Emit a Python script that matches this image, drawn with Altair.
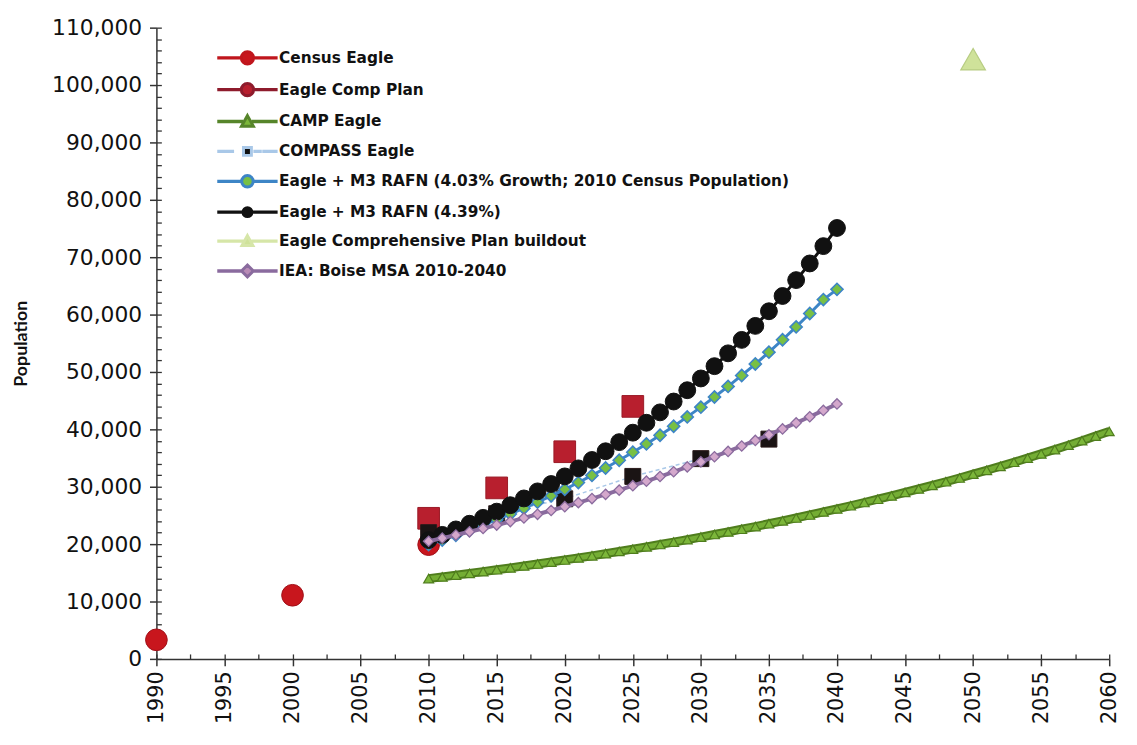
import altair as alt
import pandas as pd

# ---------------- data ----------------
census_years = [1990, 2000, 2010]
census_pop = [3327, 11085, 19908]

comp_plan_years = [2010, 2015, 2020, 2025]
comp_plan_pop = [24500, 29800, 36100, 44000]

camp_years = list(range(2010, 2061))
camp_pop = [14000, 14290, 14590, 14900, 15220, 15540, 15860, 16200, 16540, 16880,
            17240, 17600, 17970, 18350, 18740, 19130, 19530, 19940, 20360, 20790,
            21230, 21680, 22130, 22600, 23070, 23560, 24060, 24560, 25080, 25610,
            26140, 26690, 27260, 27830, 28410, 29010, 29620, 30250, 30880, 31530,
            32200, 32870, 33560, 34270, 34990, 35730, 36480, 37250, 38030, 38830,
            39650]

compass_years = [2010, 2015, 2020, 2025, 2030, 2035]
compass_pop = [22000, 25300, 27900, 31800, 34900, 38300]

rafn_years = list(range(2010, 2041))
rafn403_pop = [19908, 20710, 21550, 22410, 23320, 24260, 25230, 26250, 27310, 28410,
               29550, 30740, 31980, 33270, 34610, 36010, 37460, 38970, 40540, 42170,
               43870, 45640, 47480, 49390, 51380, 53450, 55610, 57850, 60180, 62610,
               64400]
rafn439_pop = [20700, 21610, 22560, 23550, 24580, 25660, 26780, 27960, 29190, 30470,
               31800, 33200, 34660, 36180, 37770, 39420, 41150, 42960, 44850, 46820,
               48870, 51010, 53250, 55590, 58030, 60580, 63240, 66010, 68910, 71930,
               75090]
iea_pop = [20500, 21040, 21590, 22150, 22730, 23320, 23930, 24560, 25200, 25860,
           26530, 27230, 27940, 28670, 29410, 30180, 30970, 31780, 32610, 33460,
           34340, 35230, 36150, 37100, 38070, 39060, 40080, 41130, 42200, 43300,
           44430]

buildout_years = [2050]
buildout_pop = [104500]

series_names = [
    "Census Eagle",
    "Eagle Comp Plan",
    "CAMP Eagle",
    "COMPASS Eagle",
    "Eagle + M3 RAFN (4.03% Growth; 2010 Census Population)",
    "Eagle + M3 RAFN (4.39%)",
    "Eagle Comprehensive Plan buildout",
    "IEA: Boise MSA 2010-2040",
]
marker_colors = ["#c8161d", "#b81f2e", "#7cb73a", "#111111", "#78c044", "#111111", "#cfe29a", "#b98bb6"]
line_colors = ["#c0161d", "#8e1b2c", "#56852a", "#a9c8e8", "#3d85c6", "#111111", "#d6e6a8", "#8a6b9e"]

x_major = [1990, 1995, 2000, 2005, 2010, 2015, 2020, 2025, 2030, 2035, 2040, 2045, 2050, 2055, 2060]
x_minor = [1990, 1992.5, 1995, 1997.5, 2000, 2002.5, 2005, 2007.5, 2010, 2012.5, 2015, 2017.5,
           2020, 2022.5, 2025, 2027.5, 2030, 2032.5, 2035, 2037.5, 2040, 2042.5, 2045, 2047.5,
           2050, 2052.5, 2055, 2057.5, 2060]
y_major = [0, 10000, 20000, 30000, 40000, 50000, 60000, 70000, 80000, 90000, 100000, 110000]
y_minor = [v * 2000 for v in range(0, 56)]

# ---------------- styling helpers (legend symbol paths, 10 px per unit) ----------------
CX = 1.85          # marker centre in path units
LEFT, RIGHT = -1.05, 4.75


def seg(x0, x1, h=0.02):
    return f"M{x0:.3f},{-h}H{x1:.3f}V{h}H{x0:.3f}Z"


def circle(r):
    return f"M{CX - r:.3f},0A{r},{r} 0 1,0 {CX + r:.3f},0A{r},{r} 0 1,0 {CX - r:.3f},0Z"


def square(s):
    return f"M{CX - s:.3f},{-s}H{CX + s:.3f}V{s}H{CX - s:.3f}Z"


def tri(s):
    return f"M{CX:.3f},{-s}L{CX + s:.3f},{s * 0.8:.3f}H{CX - s:.3f}Z"


def diamond(s):
    return f"M{CX:.3f},{-s}L{CX + s:.3f},0L{CX:.3f},{s}L{CX - s:.3f},0Z"


def with_line(marker, m):
    return seg(LEFT, CX - m) + seg(CX + m, RIGHT) + marker


dashed = "".join(seg(a, a + 0.55) for a in [-1.05, -0.2, 2.6, 3.5, 4.2])
legend_paths = [
    with_line(circle(0.62), 0.62),
    with_line(circle(0.62), 0.62),
    with_line(tri(0.6), 0.6),
    dashed + square(0.4),
    with_line(circle(0.58), 0.58),
    with_line(circle(0.45), 0.45),
    with_line(tri(0.55), 0.55),
    with_line(diamond(0.6), 0.6),
]

FONT = "DejaVu Sans"
AX = "#333333"

x_scale = alt.Scale(domain=[1990, 2060], nice=False, zero=False)
y_scale = alt.Scale(domain=[0, 110000], nice=False)

x_axis = alt.Axis(
    title=None, values=x_major, format="d", labelAngle=-90,
    labelFont=FONT, labelFontSize=21, labelColor="#111", labelPadding=5,
    tickSize=7, tickColor=AX, domainColor=AX, domainWidth=1.5, tickWidth=1.5,
    grid=False, labelFlush=False,
)
y_axis = alt.Axis(
    title="Population", titleFont="Lato", titleFontSize=18, titleFontWeight="bold",
    titleColor="#111", titlePadding=21, values=y_major,
    format=",d", labelFont=FONT, labelFontSize=22, labelColor="#111", labelPadding=8,
    tickSize=7, tickColor=AX, domainColor=AX, domainWidth=1.5, tickWidth=1.5,
    grid=False,
)
# inward-pointing (minor) ticks, drawn by a second axis pair moved onto the plot edges
x_axis_in = alt.Axis(
    orient="top", offset=-638, title=None, labels=False, domain=False, grid=False,
    values=x_minor, tickSize=5, tickColor=AX, tickWidth=1.3,
)
y_axis_in = alt.Axis(
    orient="right", offset=-963, title=None, labels=False, domain=False, grid=False,
    values=y_minor, tickSize=5, tickColor=AX, tickWidth=1.3,
)


def df(years, pops):
    return pd.DataFrame({"year": years, "pop": pops})


def enc(first=False):
    return dict(
        x=alt.X("year:Q", scale=x_scale, axis=x_axis if first else None),
        y=alt.Y("pop:Q", scale=y_scale, axis=y_axis if first else None),
    )


def points(d, shape, size, fill, stroke, sw=1.0, first=False):
    return alt.Chart(d).mark_point(
        shape=shape, size=size, filled=True, fill=fill, stroke=stroke,
        strokeWidth=sw, opacity=1,
    ).encode(**enc(first))


def line(d, color, width, dash=None):
    kw = dict(color=color, strokeWidth=width)
    if dash:
        kw["strokeDash"] = dash
    return alt.Chart(d).mark_line(**kw).encode(**enc())


census_df = df(census_years, census_pop)
comp_df = df(comp_plan_years, comp_plan_pop)
camp_df = df(camp_years, camp_pop)
compass_df = df(compass_years, compass_pop)
r403_df = df(rafn_years, rafn403_pop)
r439_df = df(rafn_years, rafn439_pop)
iea_df = df(rafn_years, iea_pop)
build_df = df(buildout_years, buildout_pop)

layers = [
    points(census_df, "circle", 480, "#c8161d", "#a01018", first=True),
    points(comp_df, "square", 480, "#b81f2e", "#9a1a26"),
    line(camp_df, "#4f7d1d", 9),
    line(camp_df, "#74ad34", 5),
    points(camp_df, "triangle-up", 100, "#7cb73a", "#4f7d1d", 1.2),
    line(compass_df, "#a9c8e8", 1.5, [4, 3]),
    points(compass_df, "square", 260, "#1a1414", "#2a1a1a"),
    line(r403_df, "#3d85c6", 3),
    points(r403_df, "diamond", 150, "#78c044", "#3d85c6", 1.6),
    line(r439_df, "#111111", 3),
    points(r439_df, "circle", 290, "#111111", "#111111"),
    points(build_df, "triangle-up", 620, "#cfe29a", "#b7cc82", 1.2),
    line(iea_df, "#8a6b9e", 4),
    points(iea_df, "diamond", 110, "#d4a8cc", "#8a6b9e", 1.3),
]

leg = alt.Legend(
    title=None, orient="none", legendX=62, legendY=19, padding=0,
    symbolSize=400, symbolStrokeWidth=3, symbolOpacity=1,
    labelFont=FONT, labelFontSize=15.5, labelFontWeight="bold", labelColor="#111",
    labelOffset=39, labelLimit=0, symbolLimit=0, rowPadding=7.2,
)
legend_df = pd.DataFrame({"series": series_names, "year": [None] * 8, "pop": [None] * 8})
legend_layer = alt.Chart(legend_df).mark_point(filled=True, opacity=1).encode(
    x=alt.X("year:Q", scale=x_scale, axis=x_axis_in),
    y=alt.Y("pop:Q", scale=y_scale, axis=y_axis_in),
    fill=alt.Fill("series:N", scale=alt.Scale(domain=series_names, range=marker_colors), legend=leg),
    stroke=alt.Stroke("series:N", scale=alt.Scale(domain=series_names, range=line_colors), legend=leg),
    shape=alt.Shape("series:N", scale=alt.Scale(domain=series_names, range=legend_paths), legend=leg),
).transform_filter("false")

chart = alt.layer(*layers, legend_layer).resolve_axis(
    x="independent", y="independent"
).properties(
    width=963, height=638,
    padding={"left": 5, "top": 5, "right": 2, "bottom": 2},
    background="white",
).configure_view(stroke=None)

chart.save("out.html", embed_options={"renderer": "svg", "actions": False})
